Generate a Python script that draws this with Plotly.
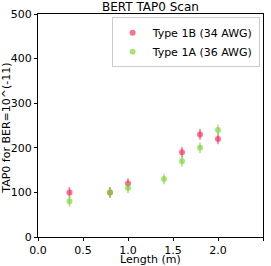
import plotly.graph_objects as go

x_1b = [0.35, 0.8, 1.0, 1.6, 1.8, 2.0]
y_1b = [100, 100, 120, 190, 230, 220]
err_1b = [12, 12, 12, 12, 12, 12]

x_1a = [0.35, 0.8, 1.0, 1.4, 1.6, 1.8, 2.0]
y_1a = [80, 100, 110, 130, 170, 200, 240]
err_1a = [12, 12, 12, 12, 12, 12, 12]

red = "rgba(250,40,80,0.65)"
green = "rgba(120,215,50,0.65)"
font_family = "DejaVu Sans"

fig = go.Figure()
fig.add_trace(go.Scatter(x=x_1b, y=y_1b, mode="markers", name="Type 1B (34 AWG)",
                         marker=dict(color=red, size=6),
                         error_y=dict(type="data", array=err_1b, color=red, thickness=1.5, width=0)))
fig.add_trace(go.Scatter(x=x_1a, y=y_1a, mode="markers", name="Type 1A (36 AWG)",
                         marker=dict(color=green, size=6),
                         error_y=dict(type="data", array=err_1a, color=green, thickness=1.5, width=0)))

axis_common = dict(showline=True, linecolor="black", linewidth=1, mirror=True,
                   ticks="outside", ticklen=3, tickcolor="black", showgrid=False,
                   zeroline=False, automargin=False,
                   tickfont=dict(family=font_family, size=11, color="black"))

fig.update_layout(
    width=271, height=266,
    margin=dict(l=38, r=8, t=14, b=29),
    plot_bgcolor="white", paper_bgcolor="white",
    title=dict(text="BERT TAP0 Scan", x=0.555, xanchor="center", y=0.975, yanchor="middle",
               font=dict(family=font_family, size=12, color="black")),
    xaxis=dict(range=[0, 2.5], tickvals=[0, 0.5, 1.0, 1.5, 2.0, 2.5],
               ticktext=["0.0", "0.5", "1.0", "1.5", "2.0", "2.5"],
               ticklabelstandoff=0, **axis_common),
    yaxis=dict(range=[0, 500], tickvals=[0, 100, 200, 300, 400, 500], **axis_common),
    legend=dict(x=0.985, y=0.985, xanchor="right", yanchor="top", bgcolor="white",
                bordercolor="#cccccc", borderwidth=1,
                font=dict(family=font_family, size=11, color="black"),
                itemwidth=30, tracegroupgap=0),
    showlegend=True,
    annotations=[
        dict(text="Length (m)", xref="paper", yref="paper", x=0.5, y=-0.103,
             xanchor="center", yanchor="middle", showarrow=False,
             font=dict(family=font_family, size=11, color="black")),
        dict(text="TAP0 for BER=10^(-11)", xref="paper", yref="paper", x=-0.138, y=0.49,
             xanchor="center", yanchor="middle", textangle=-90, showarrow=False,
             font=dict(family=font_family, size=11, color="black")),
    ],
)

fig.write_html("out.html", config={"displayModeBar": False},
               post_script="document.body.style.margin='0';document.body.style.overflow='hidden';")
